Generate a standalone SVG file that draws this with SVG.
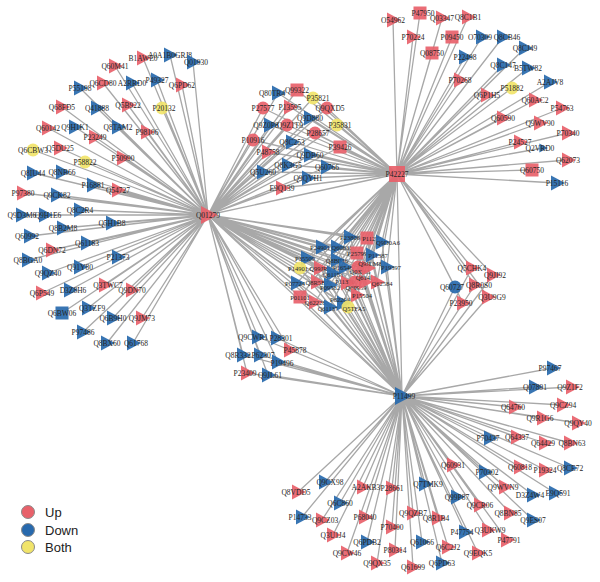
<svg xmlns="http://www.w3.org/2000/svg" xmlns:xlink="http://www.w3.org/1999/xlink" width="600" height="582" viewBox="0 0 600 582">
<style>
.e{stroke:#a8a8a8;stroke-width:1.3;fill:none}
.u{fill:#e8616a}
.d{fill:#2769ad}
.b{fill:#f1e46a}
.u use,.d use,.b use{fill-opacity:.92}
text{font-family:"Liberation Serif","DejaVu Serif",serif;font-size:7.5px;fill:#262626;text-anchor:middle}
.cc text{font-size:6.5px}
.lg text{font-family:"Liberation Sans",Arial,sans-serif;font-size:13px;text-anchor:start;fill:#222}
.lg circle{stroke:#8a8a8a;stroke-width:1}
</style>
<defs>
<path id="t" d="M-6,-7.5L8,0L-6,7.5Z"/>
<rect id="s" x="-6.5" y="-6.5" width="13" height="13"/>
<circle id="c" r="6.5"/>
<path id="T" d="M-7,-9L10,0L-7,9Z"/>
<rect id="S" x="-8" y="-8" width="16" height="16"/>
</defs>
<rect width="600" height="582" fill="#fff"/>
<g id="connectors">
<path class="e" d="M208 215L115 66M208 215L143 58M208 215L170 55M208 215L193 62M208 215L80 88M208 215L103 83M208 215L132 83M208 215L157 80M208 215L182 85M208 215L62 107M208 215L97 108M208 215L128 105M208 215L162 108M208 215L48 128M208 215L75 127M208 215L118 127M208 215L95 137M208 215L147 132M208 215L33 150M208 215L60 148M208 215L85 162M208 215L123 158M208 215L33 173M208 215L62 172M208 215L93 185M208 215L118 190M208 215L23 193M208 215L57 195M208 215L80 210M208 215L22 215M208 215L45 215M208 215L63 228M208 215L112 223M208 215L30 236M208 215L52 250M208 215L87 243M208 215L118 257M208 215L28 260M208 215L80 267M208 215L48 273M208 215L105 285M208 215L42 293M208 215L70 290M208 215L132 290M208 215L62 313M208 215L88 308M208 215L113 318M208 215L142 318M208 215L83 332M208 215L107 343M208 215L133 343"/>
<path class="e" d="M208 215L278 93M208 215L297 90M208 215L313 98M208 215L263 108M208 215L290 107M208 215L327 108M208 215L310 118M208 215L270 125M208 215L287 125M208 215L337 125M208 215L253 140M208 215L292 142M208 215L315 133M208 215L340 147M208 215L268 152M208 215L310 155M208 215L263 172M208 215L288 165M208 215L327 167M208 215L308 178M208 215L282 188"/>
<path class="e" d="M397 174L278 93M397 174L297 90M397 174L313 98M397 174L263 108M397 174L290 107M397 174L327 108M397 174L310 118M397 174L270 125M397 174L287 125M397 174L337 125M397 174L253 140M397 174L292 142M397 174L315 133M397 174L340 147M397 174L268 152M397 174L310 155M397 174L263 172M397 174L288 165M397 174L327 167M397 174L308 178M397 174L282 188"/>
<path class="e" d="M208 215L350 237M208 215L367 238M208 215L382 242M208 215L322 247M208 215L337 247M208 215L357 253M208 215L372 255M208 215L307 258M208 215L337 260M208 215L300 268M208 215L320 268M208 215L345 267M208 215L358 267M208 215L368 268M208 215L387 267M208 215L333 273M208 215L297 283M208 215L317 282M208 215L330 285M208 215L347 283M208 215L355 282M208 215L365 282M208 215L377 282M208 215L300 297M208 215L315 302M208 215L330 307M208 215L343 303M208 215L357 295M208 215L348 307"/>
<path class="e" d="M397 174L350 237M397 174L367 238M397 174L382 242M397 174L322 247M397 174L337 247M397 174L357 253M397 174L372 255M397 174L307 258M397 174L337 260M397 174L300 268M397 174L320 268M397 174L345 267M397 174L358 267M397 174L368 268M397 174L387 267M397 174L333 273M397 174L297 283M397 174L317 282M397 174L330 285M397 174L347 283M397 174L355 282M397 174L365 282M397 174L377 282M397 174L300 297M397 174L315 302M397 174L330 307M397 174L343 303M397 174L357 295M397 174L348 307"/>
<path class="e" d="M402 396L350 237M402 396L367 238M402 396L382 242M402 396L322 247M402 396L337 247M402 396L357 253M402 396L372 255M402 396L307 258M402 396L337 260M402 396L300 268M402 396L320 268M402 396L345 267M402 396L358 267M402 396L368 268M402 396L387 267M402 396L333 273M402 396L297 283M402 396L317 282M402 396L330 285M402 396L347 283M402 396L355 282M402 396L365 282M402 396L377 282M402 396L300 297M402 396L315 302M402 396L330 307M402 396L343 303M402 396L357 295M402 396L348 307"/>
<path class="e" d="M208 215L258 337M208 215L277 338M208 215L290 350M208 215L243 355M208 215L260 355M208 215L278 362M208 215L247 373M208 215L268 375M402 396L258 337M402 396L277 338M402 396L290 350M402 396L243 355M402 396L260 355M402 396L278 362M402 396L247 373M402 396L268 375"/>
<path class="e" d="M397 174L472 268M397 174L493 275M397 174L455 287M397 174L475 285M397 174L488 297M397 174L463 303M402 396L472 268M402 396L493 275M402 396L455 287M402 396L475 285M402 396L488 297M402 396L463 303"/>
<path class="e" d="M208 215L397 174M397 174L402 396M208 215L402 396"/>
<path class="e" d="M397 174L393 20M397 174L420 13M397 174L442 18M397 174L468 17M397 174L413 37M397 174L452 37M397 174L482 37M397 174L503 37M397 174L432 53M397 174L465 57M397 174L525 48M397 174L503 65M397 174L528 68M397 174L460 80M397 174L512 88M397 174L550 82M397 174L487 95M397 174L535 100M397 174L562 108M397 174L503 118M397 174L540 123M397 174L568 133M397 174L520 142M397 174L543 148M397 174L568 160M397 174L532 170M397 174L557 183"/>
<path class="e" d="M402 396L553 368M402 396L535 387M402 396L572 387M402 396L515 407M402 396L563 405M402 396L543 418M402 396L578 423M402 396L490 438M402 396L517 437M402 396L545 443M402 396L570 443M402 396L453 465M402 396L485 472M402 396L520 467M402 396L545 470M402 396L570 468M402 396L425 484M402 396L505 487M402 396L533 495M402 396L555 493M402 396L457 497M402 396L480 505M402 396L510 513M402 396L533 520M402 396L438 518M402 396L465 532M402 396L488 530M402 396L507 540M402 396L448 547M402 396L478 553M402 396L442 563M402 396L325 482M402 396L298 492M402 396L363 487M402 396L392 488M402 396L340 503M402 396L302 517M402 396L322 520M402 396L365 517M402 396L413 513M402 396L392 527M402 396L333 535M402 396L367 542M402 396L395 550M402 396L422 542M402 396L347 553M402 396L377 563M402 396L413 567"/>
</g>
<g id="nodes">
<g id="Q60M41" class="u"><use href="#t" x="115" y="66"/><text x="115" y="69">Q60M41</text></g>
<g id="B1AWE0" class="u"><use href="#t" x="143" y="58"/><text x="143" y="61">B1AWE0</text></g>
<g id="A0A1B0GRJ8" class="d"><use href="#t" x="170" y="55"/><text x="170" y="58">A0A1B0GRJ8</text></g>
<g id="Q01930" class="d"><use href="#t" x="193" y="62"/><text x="196" y="65">Q01930</text></g>
<g id="P55198" class="d"><use href="#t" x="80" y="88"/><text x="80" y="91">P55198</text></g>
<g id="Q6CD80" class="u"><use href="#t" x="103" y="83"/><text x="103" y="86">Q6CD80</text></g>
<g id="A2RRD0" class="d"><use href="#t" x="132" y="83"/><text x="132" y="86">A2RRD0</text></g>
<g id="P49327" class="d"><use href="#t" x="157" y="80"/><text x="157" y="83">P49327</text></g>
<g id="Q6PD62" class="u"><use href="#t" x="182" y="85"/><text x="182" y="88">Q6PD62</text></g>
<g id="Q68FD5" class="u"><use href="#t" x="62" y="107"/><text x="62" y="110">Q68FD5</text></g>
<g id="Q41888" class="d"><use href="#t" x="97" y="108"/><text x="97" y="111">Q41888</text></g>
<g id="Q5B922" class="u"><use href="#t" x="128" y="105"/><text x="128" y="108">Q5B922</text></g>
<g id="P20132" class="b"><use href="#c" x="162" y="108"/><text x="164" y="111">P20132</text></g>
<g id="Q60142" class="u"><use href="#t" x="48" y="128"/><text x="48" y="131">Q60142</text></g>
<g id="Q9H1K1" class="d"><use href="#t" x="75" y="127"/><text x="75" y="130">Q9H1K1</text></g>
<g id="Q8TAM2" class="d"><use href="#t" x="118" y="127"/><text x="118" y="130">Q8TAM2</text></g>
<g id="P23249" class="u"><use href="#t" x="95" y="137"/><text x="95" y="140">P23249</text></g>
<g id="P98106" class="u"><use href="#t" x="147" y="132"/><text x="147" y="135">P98106</text></g>
<g id="Q6CBW3" class="b"><use href="#c" x="33" y="150"/><text x="33" y="153">Q6CBW3</text></g>
<g id="Q5DU25" class="u"><use href="#t" x="60" y="148"/><text x="60" y="151">Q5DU25</text></g>
<g id="P58822" class="b"><use href="#c" x="85" y="162"/><text x="85" y="165">P58822</text></g>
<g id="P50990" class="u"><use href="#t" x="123" y="158"/><text x="123" y="161">P50990</text></g>
<g id="Q8IU44" class="d"><use href="#t" x="33" y="173"/><text x="33" y="176">Q8IU44</text></g>
<g id="Q8NB66" class="d"><use href="#t" x="62" y="172"/><text x="62" y="175">Q8NB66</text></g>
<g id="P16881" class="d"><use href="#t" x="93" y="185"/><text x="93" y="188">P16881</text></g>
<g id="Q54727" class="u"><use href="#t" x="118" y="190"/><text x="118" y="193">Q54727</text></g>
<g id="P97380" class="u"><use href="#t" x="23" y="193"/><text x="23" y="196">P97380</text></g>
<g id="Q9CK82" class="d"><use href="#t" x="57" y="195"/><text x="57" y="198">Q9CK82</text></g>
<g id="Q8C2R4" class="d"><use href="#t" x="80" y="210"/><text x="80" y="213">Q8C2R4</text></g>
<g id="Q9D3M6" class="d"><use href="#t" x="22" y="215"/><text x="22" y="218">Q9D3M6</text></g>
<g id="Q9H1E6" class="d"><use href="#t" x="45" y="215"/><text x="48" y="218">Q9H1E6</text></g>
<g id="Q8B2M8" class="d"><use href="#t" x="63" y="228"/><text x="63" y="231">Q8B2M8</text></g>
<g id="Q5H1B8" class="d"><use href="#t" x="112" y="223"/><text x="112" y="226">Q5H1B8</text></g>
<g id="Q60992" class="d"><use href="#t" x="30" y="236"/><text x="27" y="239">Q60992</text></g>
<g id="Q6DN72" class="u"><use href="#t" x="52" y="250"/><text x="52" y="253">Q6DN72</text></g>
<g id="Q61183" class="d"><use href="#t" x="87" y="243"/><text x="87" y="246">Q61183</text></g>
<g id="P21373" class="d"><use href="#t" x="118" y="257"/><text x="118" y="260">P21373</text></g>
<g id="Q8BGA0" class="d"><use href="#t" x="28" y="260"/><text x="28" y="263">Q8BGA0</text></g>
<g id="Q91Y80" class="d"><use href="#t" x="80" y="267"/><text x="80" y="270">Q91Y80</text></g>
<g id="Q9QZ40" class="d"><use href="#t" x="48" y="273"/><text x="48" y="276">Q9QZ40</text></g>
<g id="Q3TWC7" class="u"><use href="#t" x="105" y="285"/><text x="108" y="288">Q3TWC7</text></g>
<g id="Q6P549" class="u"><use href="#t" x="42" y="293"/><text x="42" y="296">Q6P549</text></g>
<g id="D3Z8H6" class="d"><use href="#t" x="70" y="290"/><text x="73" y="293">D3Z8H6</text></g>
<g id="Q9DN70" class="u"><use href="#t" x="132" y="290"/><text x="132" y="293">Q9DN70</text></g>
<g id="Q6BW06" class="d"><use href="#s" x="62" y="313"/><text x="62" y="316">Q6BW06</text></g>
<g id="Q3TZF9" class="d"><use href="#t" x="88" y="308"/><text x="92" y="311">Q3TZF9</text></g>
<g id="Q6B9H0" class="d"><use href="#t" x="113" y="318"/><text x="113" y="321">Q6B9H0</text></g>
<g id="Q9JM73" class="u"><use href="#t" x="142" y="318"/><text x="142" y="321">Q9JM73</text></g>
<g id="P97486" class="d"><use href="#t" x="83" y="332"/><text x="83" y="335">P97486</text></g>
<g id="Q8BX60" class="d"><use href="#t" x="107" y="343"/><text x="107" y="346">Q8BX60</text></g>
<g id="Q61768" class="d"><use href="#t" x="133" y="343"/><text x="136" y="346">Q61768</text></g>

<g id="Q80TR4" class="d"><use href="#t" x="278" y="93"/><text x="272" y="96">Q80TR4</text></g>
<g id="Q99322" class="u"><use href="#s" x="297" y="90"/><text x="297" y="93">Q99322</text></g>
<g id="P35821" class="b"><use href="#c" x="313" y="98"/><text x="318" y="101">P35821</text></g>
<g id="P27577" class="u"><use href="#c" x="263" y="108"/><text x="263" y="111">P27577</text></g>
<g id="P13595" class="u"><use href="#t" x="290" y="107"/><text x="290" y="110">P13595</text></g>
<g id="Q9QXD5" class="u"><use href="#c" x="327" y="108"/><text x="330" y="111">Q9QXD5</text></g>
<g id="Q9D880" class="d"><use href="#t" x="310" y="118"/><text x="310" y="121">Q9D880</text></g>
<g id="Q9Z0P8" class="d"><use href="#t" x="270" y="125"/><text x="266" y="128">Q9Z0P8</text></g>
<g id="Q9Z1T9" class="u"><use href="#c" x="287" y="125"/><text x="290" y="128">Q9Z1T9</text></g>
<g id="P35831" class="b"><use href="#c" x="337" y="125"/><text x="340" y="128">P35831</text></g>
<g id="P10916" class="u"><use href="#c" x="253" y="140"/><text x="253" y="143">P10916</text></g>
<g id="Q8C253" class="d"><use href="#t" x="292" y="142"/><text x="292" y="145">Q8C253</text></g>
<g id="P28657" class="u"><use href="#c" x="315" y="133"/><text x="318" y="136">P28657</text></g>
<g id="P39426" class="u"><use href="#s" x="340" y="147"/><text x="340" y="150">P39426</text></g>
<g id="P48758" class="u"><use href="#t" x="268" y="152"/><text x="268" y="155">P48758</text></g>
<g id="Q9DB60" class="d"><use href="#t" x="310" y="155"/><text x="310" y="158">Q9DB60</text></g>
<g id="Q5U260" class="d"><use href="#t" x="263" y="172"/><text x="263" y="175">Q5U260</text></g>
<g id="Q8K3G5" class="d"><use href="#t" x="288" y="165"/><text x="288" y="168">Q8K3G5</text></g>
<g id="Q60766" class="d"><use href="#t" x="327" y="167"/><text x="327" y="170">Q60766</text></g>
<g id="Q9QYH1" class="d"><use href="#t" x="308" y="178"/><text x="308" y="181">Q9QYH1</text></g>
<g id="E9Q139" class="u"><use href="#t" x="282" y="188"/><text x="282" y="191">E9Q139</text></g>

<g id="O54962" class="u"><use href="#t" x="393" y="20"/><text x="393" y="23">O54962</text></g>
<g id="P47950" class="u"><use href="#s" x="420" y="13"/><text x="423" y="16">P47950</text></g>
<g id="Q03347" class="u"><use href="#t" x="442" y="18"/><text x="442" y="21">Q03347</text></g>
<g id="Q8C1B1" class="u"><use href="#t" x="468" y="17"/><text x="468" y="20">Q8C1B1</text></g>
<g id="P70224" class="u"><use href="#t" x="413" y="37"/><text x="413" y="40">P70224</text></g>
<g id="P09450" class="u"><use href="#s" x="452" y="37"/><text x="452" y="40">P09450</text></g>
<g id="O70309" class="d"><use href="#t" x="482" y="37"/><text x="480" y="40">O70309</text></g>
<g id="Q8CB46" class="d"><use href="#t" x="503" y="37"/><text x="507" y="40">Q8CB46</text></g>
<g id="Q08750" class="u"><use href="#s" x="432" y="53"/><text x="432" y="56">Q08750</text></g>
<g id="P22498" class="d"><use href="#t" x="465" y="57"/><text x="465" y="60">P22498</text></g>
<g id="Q8CJ49" class="d"><use href="#t" x="525" y="48"/><text x="525" y="51">Q8CJ49</text></g>
<g id="Q8C147" class="d"><use href="#t" x="503" y="65"/><text x="503" y="68">Q8C147</text></g>
<g id="B5TW82" class="d"><use href="#t" x="528" y="68"/><text x="528" y="71">B5TW82</text></g>
<g id="P70268" class="u"><use href="#t" x="460" y="80"/><text x="460" y="83">P70268</text></g>
<g id="P51882" class="b"><use href="#c" x="512" y="88"/><text x="512" y="91">P51882</text></g>
<g id="A2AJV8" class="d"><use href="#t" x="550" y="82"/><text x="550" y="85">A2AJV8</text></g>
<g id="Q6P1H5" class="u"><use href="#t" x="487" y="95"/><text x="487" y="98">Q6P1H5</text></g>
<g id="Q60AC2" class="u"><use href="#t" x="535" y="100"/><text x="535" y="103">Q60AC2</text></g>
<g id="P54763" class="u"><use href="#t" x="562" y="108"/><text x="562" y="111">P54763</text></g>
<g id="Q60590" class="u"><use href="#t" x="503" y="118"/><text x="503" y="121">Q60590</text></g>
<g id="Q9WV90" class="u"><use href="#t" x="540" y="123"/><text x="540" y="126">Q9WV90</text></g>
<g id="P70340" class="u"><use href="#t" x="568" y="133"/><text x="568" y="136">P70340</text></g>
<g id="P24527" class="u"><use href="#t" x="520" y="142"/><text x="520" y="145">P24527</text></g>
<g id="Q2VRD0" class="d"><use href="#t" x="543" y="148" transform="translate(543 148) scale(.6) translate(-543 -148)"/><text x="540" y="151">Q2VRD0</text></g>
<g id="Q62073" class="u"><use href="#t" x="568" y="160"/><text x="568" y="163">Q62073</text></g>
<g id="Q60750" class="u"><use href="#s" x="532" y="170"/><text x="532" y="173">Q60750</text></g>
<g id="P15116" class="d"><use href="#t" x="557" y="183"/><text x="557" y="186">P15116</text></g>

<g id="center-cluster" class="cc">
<g id="P23806" class="d"><use href="#t" x="350" y="237"/><text x="350" y="240">P23806</text></g>
<g id="P11275" class="u"><use href="#s" x="367" y="238"/><text x="372" y="241">P11275</text></g>
<g id="Q9D0A6" class="d"><use href="#t" x="382" y="242"/><text x="388" y="245">Q9D0A6</text></g>
<g id="P24901" class="d"><use href="#t" x="322" y="247"/><text x="320" y="250">P24901</text></g>
<g id="Q60831" class="d"><use href="#t" x="337" y="247"/><text x="342" y="250">Q60831</text></g>
<g id="P25799" class="u"><use href="#s" x="357" y="253"/><text x="357" y="256">P25799</text></g>
<g id="P11387" class="d"><use href="#t" x="372" y="255"/><text x="378" y="258">P11387</text></g>
<g id="P35509" class="d"><use href="#t" x="307" y="258"/><text x="305" y="261">P35509</text></g>
<g id="Q8BF16" class="d"><use href="#t" x="337" y="260"/><text x="337" y="263">Q8BF16</text></g>
<g id="P14901" class="b"><use href="#c" x="300" y="268"/><text x="298" y="271">P14901</text></g>
<g id="Q99JR5" class="u"><use href="#t" x="320" y="268"/><text x="320" y="271">Q99JR5</text></g>
<g id="P16546" class="d"><use href="#t" x="345" y="267"/><text x="343" y="270">P16546</text></g>
<g id="Q03265" class="u"><use href="#c" x="358" y="267"/><text x="360" y="274">Q03265</text></g>
<g id="Q9JLM8" class="u"><use href="#t" x="368" y="268"/><text x="370" y="266">Q9JLM8</text></g>
<g id="P19397" class="d"><use href="#t" x="387" y="267"/><text x="391" y="270">P19397</text></g>
<g id="Q61153" class="d"><use href="#t" x="333" y="273"/><text x="333" y="277">Q61153</text></g>
<g id="P07724" class="d"><use href="#t" x="297" y="283"/><text x="295" y="286">P07724</text></g>
<g id="Q8R5B7" class="u"><use href="#t" x="317" y="282"/><text x="317" y="285">Q8R5B7</text></g>
<g id="P09582" class="d"><use href="#t" x="330" y="285"/><text x="330" y="290">P09582</text></g>
<g id="P11370" class="u"><use href="#t" x="347" y="283"/><text x="345" y="284">P11370</text></g>
<g id="Q60959" class="u"><use href="#c" x="355" y="282"/><text x="356" y="290">Q60959</text></g>
<g id="Q61411" class="u"><use href="#t" x="365" y="282"/><text x="366" y="280">Q61411</text></g>
<g id="Q62584" class="u"><use href="#t" x="377" y="282"/><text x="382" y="286">Q62584</text></g>
<g id="P01101" class="u"><use href="#s" x="300" y="297"/><text x="300" y="300">P01101</text></g>
<g id="Q62226" class="u"><use href="#t" x="315" y="302"/><text x="315" y="305">Q62226</text></g>
<g id="Q61137" class="d"><use href="#t" x="330" y="307"/><text x="328" y="311">Q61137</text></g>
<g id="P62204" class="d"><use href="#t" x="343" y="303"/><text x="340" y="302">P62204</text></g>
<g id="P15504" class="u"><use href="#t" x="357" y="295"/><text x="362" y="298">P15504</text></g>
<g id="Q5TFA5" class="b"><use href="#c" x="348" y="307"/><text x="354" y="311">Q5TFA5</text></g>
</g>

<g id="Q9CWR1" class="d"><use href="#t" x="258" y="337"/><text x="253" y="340">Q9CWR1</text></g>
<g id="P28301" class="d"><use href="#t" x="277" y="338"/><text x="281" y="341">P28301</text></g>
<g id="P45878" class="u"><use href="#t" x="290" y="350"/><text x="295" y="353">P45878</text></g>
<g id="Q8R332" class="d"><use href="#t" x="243" y="355"/><text x="238" y="358">Q8R332</text></g>
<g id="P62307" class="d"><use href="#t" x="260" y="355"/><text x="263" y="358">P62307</text></g>
<g id="P19496" class="d"><use href="#t" x="278" y="362"/><text x="282" y="366">P19496</text></g>
<g id="P23409" class="u"><use href="#t" x="247" y="373"/><text x="245" y="376">P23409</text></g>
<g id="Q9JL61" class="d"><use href="#t" x="268" y="375"/><text x="270" y="378">Q9JL61</text></g>

<g id="Q5CHK4" class="u"><use href="#t" x="472" y="268"/><text x="472" y="271">Q5CHK4</text></g>
<g id="Q9JI92" class="u"><use href="#t" x="493" y="275"/><text x="495" y="278">Q9JI92</text></g>
<g id="Q60727" class="d"><use href="#c" x="455" y="287"/><text x="452" y="290">Q60727</text></g>
<g id="Q8R0S0" class="u"><use href="#t" x="475" y="285"/><text x="479" y="288">Q8R0S0</text></g>
<g id="Q3U9G9" class="u"><use href="#t" x="488" y="297"/><text x="492" y="300">Q3U9G9</text></g>
<g id="P23950" class="u"><use href="#t" x="463" y="303"/><text x="461" y="306">P23950</text></g>

<g id="P97467" class="d"><use href="#t" x="553" y="368"/><text x="550" y="371">P97467</text></g>
<g id="Q07891" class="d"><use href="#t" x="535" y="387"/><text x="535" y="390">Q07891</text></g>
<g id="Q9Z1F2" class="u"><use href="#t" x="572" y="387"/><text x="570" y="390">Q9Z1F2</text></g>
<g id="Q64760" class="u"><use href="#t" x="515" y="407"/><text x="513" y="410">Q64760</text></g>
<g id="Q9CZ94" class="u"><use href="#t" x="563" y="405"/><text x="563" y="408">Q9CZ94</text></g>
<g id="Q9R1G6" class="u"><use href="#t" x="543" y="418"/><text x="540" y="421">Q9R1G6</text></g>
<g id="Q9QY40" class="u"><use href="#t" x="578" y="423"/><text x="578" y="426">Q9QY40</text></g>
<g id="P70437" class="d"><use href="#t" x="490" y="438"/><text x="488" y="441">P70437</text></g>
<g id="Q64337" class="u"><use href="#t" x="517" y="437"/><text x="517" y="440">Q64337</text></g>
<g id="Q64429" class="u"><use href="#t" x="545" y="443"/><text x="543" y="446">Q64429</text></g>
<g id="Q8BN63" class="u"><use href="#t" x="570" y="443"/><text x="572" y="446">Q8BN63</text></g>
<g id="Q60931" class="u"><use href="#t" x="453" y="465"/><text x="453" y="468">Q60931</text></g>
<g id="P70302" class="d"><use href="#t" x="485" y="472"/><text x="487" y="475">P70302</text></g>
<g id="Q60818" class="u"><use href="#t" x="520" y="467"/><text x="520" y="470">Q60818</text></g>
<g id="P19324" class="u"><use href="#t" x="545" y="470"/><text x="545" y="473">P19324</text></g>
<g id="Q8CE72" class="d"><use href="#t" x="570" y="468"/><text x="570" y="471">Q8CE72</text></g>
<g id="Q7TMK9" class="d"><use href="#t" x="425" y="484"/><text x="428" y="487">Q7TMK9</text></g>
<g id="Q9WVN9" class="u"><use href="#t" x="505" y="487"/><text x="503" y="490">Q9WVN9</text></g>
<g id="D3Z4W4" class="d"><use href="#t" x="533" y="495"/><text x="530" y="498">D3Z4W4</text></g>
<g id="E9Q591" class="d"><use href="#t" x="555" y="493"/><text x="558" y="496">E9Q591</text></g>
<g id="Q99P87" class="d"><use href="#t" x="457" y="497"/><text x="457" y="500">Q99P87</text></g>
<g id="Q9CR06" class="u"><use href="#t" x="480" y="505"/><text x="480" y="508">Q9CR06</text></g>
<g id="Q8BN85" class="u"><use href="#t" x="510" y="513"/><text x="508" y="516">Q8BN85</text></g>
<g id="Q9ES07" class="d"><use href="#t" x="533" y="520"/><text x="533" y="523">Q9ES07</text></g>
<g id="Q8R1B4" class="u"><use href="#t" x="438" y="518"/><text x="436" y="521">Q8R1B4</text></g>
<g id="P47754" class="d"><use href="#t" x="465" y="532"/><text x="462" y="535">P47754</text></g>
<g id="Q3UKW9" class="u"><use href="#t" x="488" y="530"/><text x="490" y="533">Q3UKW9</text></g>
<g id="P47791" class="u"><use href="#t" x="507" y="540"/><text x="509" y="543">P47791</text></g>
<g id="Q6C2J2" class="u"><use href="#t" x="448" y="547"/><text x="448" y="550">Q6C2J2</text></g>
<g id="Q9EQK5" class="u"><use href="#t" x="478" y="553"/><text x="478" y="556">Q9EQK5</text></g>
<g id="Q6PD63" class="d"><use href="#t" x="442" y="563"/><text x="442" y="566">Q6PD63</text></g>
<g id="Q9CX98" class="d"><use href="#t" x="325" y="482"/><text x="330" y="485">Q9CX98</text></g>
<g id="Q8VDD5" class="u"><use href="#t" x="298" y="492"/><text x="296" y="495">Q8VDD5</text></g>
<g id="A2AKB3" class="u"><use href="#t" x="363" y="487"/><text x="366" y="490">A2AKB3</text></g>
<g id="P28661" class="u"><use href="#t" x="392" y="488"/><text x="392" y="491">P28661</text></g>
<g id="Q6C860" class="d"><use href="#t" x="340" y="503"/><text x="340" y="506">Q6C860</text></g>
<g id="P14733" class="d"><use href="#t" x="302" y="517"/><text x="300" y="520">P14733</text></g>
<g id="Q9CZ03" class="u"><use href="#t" x="322" y="520"/><text x="325" y="523">Q9CZ03</text></g>
<g id="P68040" class="u"><use href="#t" x="365" y="517"/><text x="365" y="520">P68040</text></g>
<g id="Q9QZB7" class="u"><use href="#t" x="413" y="513"/><text x="413" y="516">Q9QZB7</text></g>
<g id="P70400" class="u"><use href="#t" x="392" y="527"/><text x="392" y="530">P70400</text></g>
<g id="Q3U1J4" class="u"><use href="#t" x="333" y="535"/><text x="333" y="538">Q3U1J4</text></g>
<g id="Q6PDB2" class="d"><use href="#t" x="367" y="542"/><text x="367" y="545">Q6PDB2</text></g>
<g id="P80314" class="u"><use href="#t" x="395" y="550"/><text x="395" y="553">P80314</text></g>
<g id="Q61066" class="d"><use href="#t" x="422" y="542"/><text x="422" y="545">Q61066</text></g>
<g id="Q9CW46" class="u"><use href="#t" x="347" y="553"/><text x="347" y="556">Q9CW46</text></g>
<g id="Q9QX35" class="u"><use href="#t" x="377" y="563"/><text x="377" y="566">Q9QX35</text></g>
<g id="Q61699" class="u"><use href="#t" x="413" y="567"/><text x="413" y="570">Q61699</text></g>

<g id="Q01279" class="u"><use href="#T" x="208" y="215"/><text x="208" y="218">Q01279</text></g>
<g id="P42227" class="u"><use href="#S" x="397" y="174"/><text x="397" y="177">P42227</text></g>
<g id="P11499" class="d"><use href="#T" x="402" y="396"/><text x="404" y="399">P11499</text></g>
</g>
<g id="legend" class="lg">
<circle cx="28" cy="512" r="6.5" fill="#e8616a"/>
<circle cx="28" cy="530" r="6.5" fill="#2769ad"/>
<circle cx="28" cy="547" r="6.5" fill="#f1e46a"/>
<text x="45" y="517">Up</text>
<text x="45" y="535">Down</text>
<text x="45" y="552">Both</text>
</g>
</svg>
